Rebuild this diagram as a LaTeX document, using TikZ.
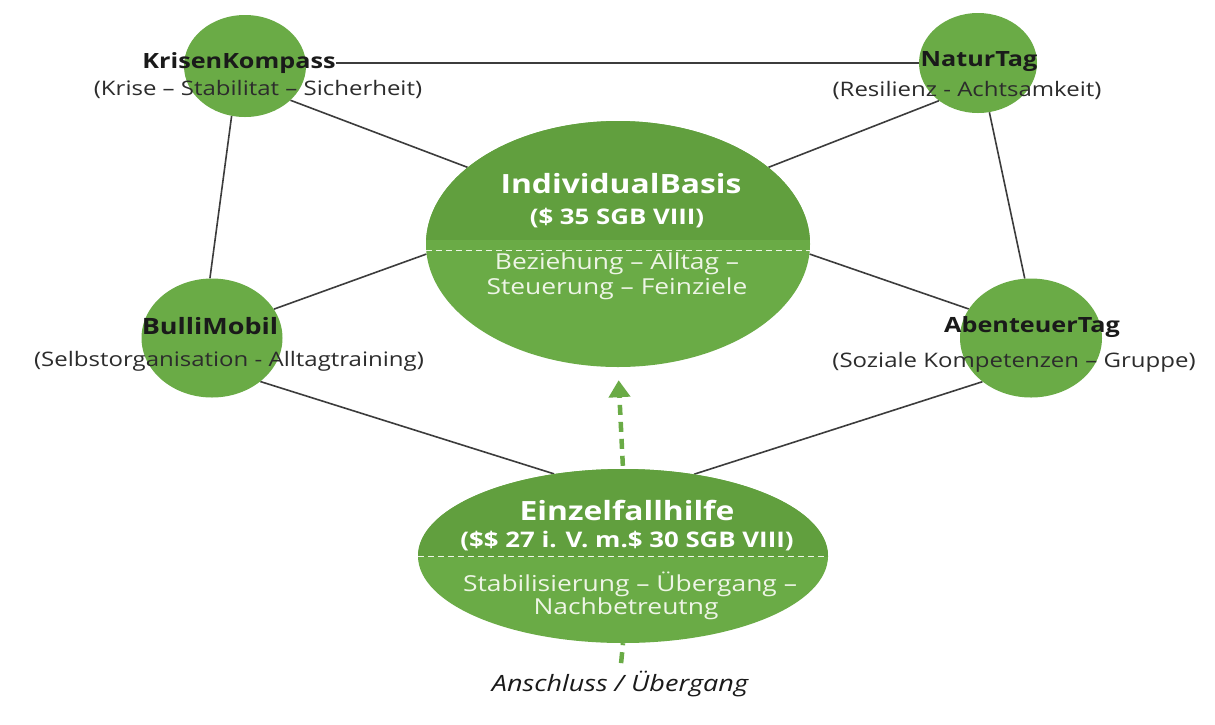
\documentclass[tikz,border=0pt]{standalone}
\usepackage{fontspec}
\setmainfont[FakeStretch=1.2]{Open Sans}
\usetikzlibrary{shapes.geometric,arrows.meta}
\pgfdeclarelayer{bg}
\pgfsetlayers{bg,main}
\definecolor{gr}{HTML}{6AAB46}
\definecolor{grd}{HTML}{619F3E}
\definecolor{ln}{HTML}{3C3C3C}
\definecolor{tx}{HTML}{1A1A1A}
\definecolor{wt}{HTML}{EEF5E6}
\begin{document}
\begin{tikzpicture}[x=1pt,y=-1pt,
  bub/.style={ellipse, fill=gr, inner sep=0pt},
  con/.style={ln, line width=1.6pt},
  ttl/.style={font=\fontsize{21}{24}\selectfont\bfseries, text=tx, inner sep=0pt},
  subt/.style={font=\fontsize{20}{23}\selectfont, text=tx!92, inner sep=0pt},
  bigt/.style={font=\fontsize{26.5}{30}\selectfont\bfseries, text=white, inner sep=0pt},
  bigs/.style={font=\fontsize{21.5}{25}\selectfont\bfseries, text=white, inner sep=0pt},
  bigl/.style={font=\fontsize{22}{26}\selectfont, text=wt, inner sep=0pt},
  divider/.style={wt, line width=0.9pt, dash pattern=on 6pt off 4pt},
  grarrow/.style={gr, line width=4.5pt, dash pattern=on 10pt off 7pt}
]
\useasboundingbox (0,0) rectangle (1215,724);

% bubbles
\node[bub, minimum width=122pt, minimum height=102pt] (kk) at (245,66) {};
\node[bub, minimum width=118pt, minimum height=100pt] (nt) at (978,63) {};
\node[bub, minimum width=141pt, minimum height=119pt] (bm) at (212,338) {};
\node[bub, minimum width=142pt, minimum height=119pt] (at) at (1031,338) {};
\node[bub, minimum width=384pt, minimum height=246pt] (ib) at (618,244) {};
\node[bub, minimum width=410pt, minimum height=174pt] (ef) at (623,556) {};

% darker upper parts of the two large bubbles
\begin{scope}
  \clip (618,244) ellipse [x radius=192, y radius=123];
  \fill[grd] (400,100) rectangle (840,240);
\end{scope}
\begin{scope}
  \clip (623,556) ellipse [x radius=205, y radius=87];
  \fill[grd] (400,460) rectangle (840,557);
\end{scope}

% labels of small bubbles
\node[ttl] (kkt) at (239,63) {KrisenKompass};
\node[subt] (kks) at (258,89) {(Krise – Stabilitat – Sicherheit)};
\node[ttl] (ntt) at (979,62) {NaturTag};
\node[subt] (nts) at (967,90) {(Resilienz - Achtsamkeit)};
\node[ttl, font=\fontsize{22.5}{26}\selectfont\bfseries] (bmt) at (210,326) {BulliMobil};
\node[subt] (bms) at (229,361) {(Selbstorganisation - Alltagtraining)};
\node[ttl] (att) at (1032,327) {AbenteuerTag};
\node[subt] (ats) at (1014,362) {(Soziale Kompetenzen – Gruppe)};

% IndividualBasis
\node[bigt] (ibt) at (621,184) {IndividualBasis};
\node[bigs] (ibs) at (617,218) {(\$ 35 SGB VIII)};
\node[bigl] (ib1) at (617,264) {Beziehung – Alltag –};
\node[bigl] (ib2) at (617,289) {Steuerung – Feinziele};
\draw[divider] (ib.182) -- (ib.-2);

% Einzelfallhilfe
\node[bigt] (eft) at (627,510) {Einzelfallhilfe};
\node[bigs] (efs) at (627,541) {(\$\$ 27 i. V. m.\$ 30 SGB VIII)};
\node[bigl] (ef1) at (630,584) {Stabilisierung – Übergang –};
\node[bigl] (ef2) at (626,609) {Nachbetreutng};
\draw[divider] (ef.west) -- (ef.east);

% bottom label
\node[font=\fontsize{22.5}{26}\selectfont\itshape, text=tx, inner sep=0pt] (an) at (620,684) {Anschluss / Übergang};
\coordinate (anc) at (621,664);

% connectors
\begin{pgfonlayer}{bg}
  \fill[white] (0,0) rectangle (1215,724);
  \draw[con] (kkt.east) -- (nt.180);
  \draw[con] (kk.-37) -- (ib.153);
  \draw[con] (kk.-105) -- (bm.92);
  \draw[con] (nt.-136) -- (ib.27);
  \draw[con] (nt.-77) -- (at.96);
  \draw[con] (bm.25) -- (ib.183);
  \draw[con] (at.155) -- (ib.-3);
  \draw[con] (bm.-42) -- (ef.130);
  \draw[con] (at.-138) -- (ef.49);
\end{pgfonlayer}

% green dashed arrow and bottom line
\draw[grarrow, shorten <=3pt, shorten >=13pt, -{Triangle[length=17pt,width=21pt]}] (ef.north) -- (ib.south);
\draw[gr, line width=4.5pt, dash pattern=on 2pt off 7pt on 11pt off 20pt] (ef.south) -- (anc);
\end{tikzpicture}
\end{document}
